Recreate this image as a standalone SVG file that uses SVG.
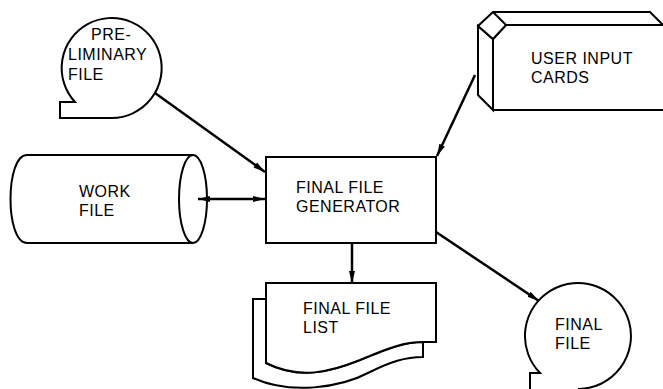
<svg xmlns="http://www.w3.org/2000/svg" width="663" height="389" viewBox="0 0 663 389">
<style>
.s{fill:#fff;stroke:#000;stroke-width:2;stroke-linejoin:miter}
.o{fill:none;stroke:#000;stroke-width:2}
.c{fill:none;stroke:#000;stroke-width:2.5}
text{font-family:"Liberation Sans",Arial,sans-serif;font-size:16px;letter-spacing:0.5px;fill:#000}
</style>
<defs>
<marker id="ah" viewBox="0 0 12 8" refX="12" refY="4" markerWidth="12" markerHeight="8" markerUnits="userSpaceOnUse" orient="auto-start-reverse">
<path d="M0,1 L12,4 L0,7 Z" fill="#000"/>
</marker>
</defs>
<rect width="663" height="389" fill="#fff"/>
<g id="preliminary-file">
<path class="s" d="M112,118 A50,50 0 1 0 75,102 L60,102 L60,118 Z"/>
<text x="91" y="40">PRE-</text>
<text x="68" y="60">LIMINARY</text>
<text x="68" y="80">FILE</text>
</g>
<g id="user-input-cards">
<path class="s" d="M493,39 L506,25 L670,25 L670,110 L493,110 Z"/>
<path class="s" d="M478,26 L493,39 L493,110 L478,95 Z"/>
<path class="s" d="M478,26 L493,12 L650,12 L663,25 L506,25 L493,39 Z"/>
<path class="o" d="M493,12 L506,25"/>
<text x="531" y="64">USER INPUT</text>
<text x="531" y="83">CARDS</text>
</g>
<g id="work-file">
<path class="s" d="M193,155 L27,155 C5,155 5,243 27,243 L193,243"/>
<ellipse class="s" cx="193" cy="199" rx="14" ry="44"/>
<text x="79" y="197">WORK</text>
<text x="79" y="216">FILE</text>
</g>
<g id="final-file-generator">
<rect class="s" x="266" y="157" width="170" height="86"/>
<text x="296" y="193">FINAL FILE</text>
<text x="296" y="212">GENERATOR</text>
</g>
<g id="final-file-list">
<path class="s" d="M253,299 L266,299 L266,363 C300,380 330,372 360,360 C390,348 405,342 423,342 L423,357 C405,357 390,362 370,372 C340,388 290,395 253,378 Z"/>
<path class="s" d="M266,283 L436,283 L436,342 L423,342 C405,342 390,347 360,360 C330,372 300,380 266,363 Z"/>
<text x="303" y="314">FINAL FILE</text>
<text x="303" y="333">LIST</text>
</g>
<g id="final-file">
<path class="s" d="M579,389 A53,53 0 1 0 540,373 L530,373 L530,392 L579,392 Z"/>
<text x="555" y="330">FINAL</text>
<text x="555" y="349">FILE</text>
</g>
<g id="connectors">
<line class="c" x1="155" y1="93" x2="265" y2="172" marker-end="url(#ah)"/>
<line class="c" x1="198" y1="199" x2="265" y2="199" marker-start="url(#ah)" marker-end="url(#ah)"/>
<line class="c" x1="475" y1="75" x2="437" y2="156" marker-end="url(#ah)"/>
<line class="c" x1="436" y1="232" x2="539" y2="301" marker-end="url(#ah)"/>
<line class="c" x1="352" y1="243" x2="352" y2="283" marker-end="url(#ah)"/>
</g>
</svg>
